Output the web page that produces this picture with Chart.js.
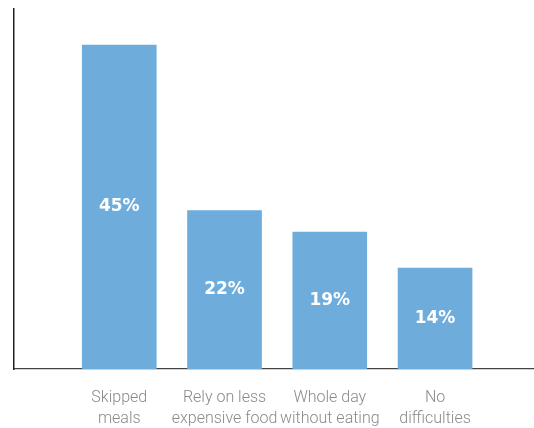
<!DOCTYPE html>
<html>
<head>
<meta charset="utf-8">
<script src="https://cdn.jsdelivr.net/npm/chart.js@4"></script>
<style>
  html, body { margin: 0; padding: 0; background: #fff; }
  #wrap { width: 534px; height: 428px; }
</style>
</head>
<body>
<div id="wrap"><canvas id="chart"></canvas></div>
<script>
var categories = [
  ["Skipped", "meals"],
  ["Rely on less", "expensive food"],
  ["Whole day", "without eating"],
  ["No", "difficulties"]
];
var values = [45, 22, 19, 14];
var positions = [1, 2, 3, 4];

// white percentage inside each bar
var valueLabels = {
  id: "valueLabels",
  afterDatasetsDraw: function(chart) {
    var ctx = chart.ctx;
    var meta = chart.getDatasetMeta(0);
    ctx.save();
    ctx.fillStyle = "#fff";
    ctx.font = "bold 17px 'DejaVu Sans'";
    ctx.textAlign = "center";
    ctx.textBaseline = "middle";
    meta.data.forEach(function(bar, i) {
      ctx.fillText(values[i] + "%", bar.x, (bar.y + bar.base) / 2);
    });
    ctx.restore();
  }
};

var ctx = document.getElementById("chart").getContext("2d");

var chart = new Chart(ctx, {
  type: "bar",
  data: {
    datasets: [{
      data: positions.map(function(p, i) { return { x: p, y: values[i] }; }),
      backgroundColor: "#6DACDB",
      barThickness: 74
    }]
  },
  options: {
    responsive: true,
    maintainAspectRatio: false,
    animation: false,
    layout: {
      padding: { left: 14, top: 9, right: 0, bottom: 0 }
    },
    plugins: {
      legend: { display: false },
      tooltip: { enabled: false }
    },
    scales: {
      x: {
        type: "linear",
        offset: false,
        min: 0,
        max: 4.94,
        grid: { display: false, drawTicks: false, offset: false },
        border: { display: true, color: "#444", width: 1.2 },
        afterFit: function(scale) {
          scale.height = 59;
          scale.paddingLeft = 0;
          scale.paddingRight = 0;
        },
        ticks: {
          stepSize: 1,
          autoSkip: false,
          maxRotation: 0,
          padding: 19,
          color: "#8a8a8a",
          font: { family: "Roboto", weight: 300, size: 16, lineHeight: 1.3 },
          callback: function(v) {
            var i = positions.indexOf(v);
            return i >= 0 ? categories[i] : "";
          }
        }
      },
      y: {
        min: 0,
        max: 50,
        grid: { display: false, drawTicks: false },
        border: { display: true, color: "#222", width: 1.5 },
        ticks: { display: false }
      }
    }
  },
  plugins: [valueLabels]
});
</script>
</body>
</html>
